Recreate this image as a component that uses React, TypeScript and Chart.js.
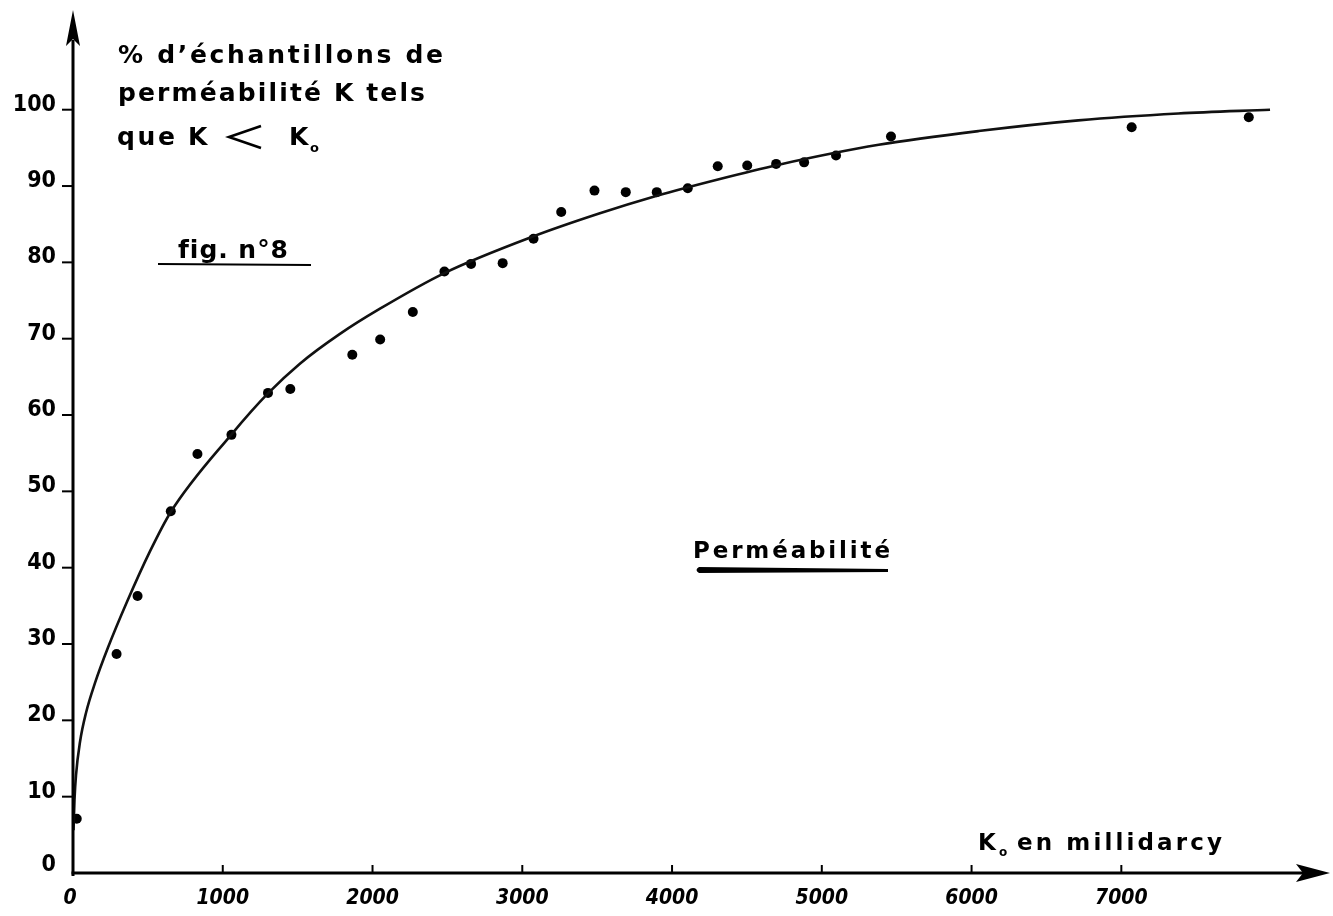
import React, { useEffect, useRef } from "react";
import { Chart, registerables } from "chart.js";

Chart.register(...registerables);

// ---- data ----
const xTicks = [0, 1000, 2000, 3000, 4000, 5000, 6000, 7000];
const yTicks = [0, 10, 20, 30, 40, 50, 60, 70, 80, 90, 100];

// measured samples (K0 in millidarcy, % of samples with K < K0)
const sampleK = [25, 291, 431, 653, 831, 1058, 1302, 1451, 1865, 2051, 2269, 2480, 2658, 2869, 3075, 3260, 3482, 3691, 3898, 4105, 4305, 4502, 4695, 4882, 5095, 5462, 7069, 7851];
const samplePct = [7.1, 28.7, 36.3, 47.4, 54.9, 57.4, 62.9, 63.4, 67.9, 69.9, 73.5, 78.8, 79.8, 79.9, 83.1, 86.6, 89.4, 89.2, 89.2, 89.7, 92.6, 92.7, 92.9, 93.1, 94.0, 96.5, 97.7, 99.0];

// hand-drawn fitted curve
const curveK = [3.3, 10, 20, 47, 87, 147, 233, 360, 513, 653, 1060, 1300, 1513, 1780, 2047, 2480, 3073, 3513, 3893, 4313, 4713, 5380, 6047, 6713, 7380, 7993];
const curvePct = [5.6, 9.6, 12.8, 17.2, 21.0, 24.9, 29.5, 35.5, 42.1, 47.3, 57.5, 62.8, 66.7, 70.6, 73.9, 78.6, 83.4, 86.4, 88.7, 90.9, 92.8, 95.4, 97.2, 98.6, 99.5, 100.0];

const X_MAX = 8380;
const Y_MAX = 112.8;

function fitText(ctx: CanvasRenderingContext2D, text: string, x: number, y: number, width: number, font: string) {
  ctx.font = font;
  const chars = Array.from(text);
  const widths = chars.map((c) => ctx.measureText(c).width);
  const total = widths.reduce((a, b) => a + b, 0);
  const sp = chars.length > 1 ? (width - total) / (chars.length - 1) : 0;
  let cx = x;
  chars.forEach((c, i) => {
    ctx.fillText(c, cx, y);
    cx += widths[i] + sp;
  });
}

const decor = {
  id: "decor",
  afterDraw(chart: any) {
    const ctx: CanvasRenderingContext2D = chart.ctx;
    const xs = chart.scales.x;
    const ys = chart.scales.y;
    const area = chart.chartArea;
    const x0 = xs.getPixelForValue(0);
    const y0 = ys.getPixelForValue(0);
    ctx.save();
    ctx.fillStyle = "#000";
    ctx.strokeStyle = "#000";
    ctx.lineCap = "butt";

    // y axis
    ctx.lineWidth = 3;
    ctx.beginPath();
    ctx.moveTo(x0, y0 + 3);
    ctx.lineTo(x0, area.top + 28);
    ctx.stroke();
    // y arrow
    ctx.beginPath();
    ctx.moveTo(x0, area.top - 2);
    ctx.lineTo(x0 + 7, area.top + 34);
    ctx.lineTo(x0, area.top + 27);
    ctx.lineTo(x0 - 7, area.top + 34);
    ctx.closePath();
    ctx.fill();

    // x axis
    ctx.beginPath();
    ctx.moveTo(x0 - 1.5, y0);
    ctx.lineTo(area.right - 24, y0);
    ctx.stroke();
    // x arrow
    ctx.beginPath();
    ctx.moveTo(area.right + 2, y0);
    ctx.lineTo(area.right - 32, y0 - 9);
    ctx.lineTo(area.right - 25, y0);
    ctx.lineTo(area.right - 32, y0 + 9);
    ctx.closePath();
    ctx.fill();

    // y ticks + labels
    ctx.lineWidth = 2;
    ctx.textAlign = "right";
    ctx.textBaseline = "alphabetic";
    ctx.font = 'bold 23px "DejaVu Sans Condensed", "DejaVu Sans", sans-serif';
    yTicks.forEach((v) => {
      const py = ys.getPixelForValue(v);
      if (v !== 0) {
        ctx.beginPath();
        ctx.moveTo(x0 - 11, py);
        ctx.lineTo(x0, py);
        ctx.stroke();
      }
      ctx.fillText(String(v), x0 - 17, v === 0 ? py - 2 : py + 1);
    });

    // x ticks + labels
    ctx.textAlign = "center";
    ctx.font = 'italic bold 21px "DejaVu Sans Condensed", "DejaVu Sans", sans-serif';
    xTicks.forEach((v) => {
      const px = xs.getPixelForValue(v);
      if (v !== 0) {
        ctx.beginPath();
        ctx.moveTo(px, y0);
        ctx.lineTo(px, y0 - 8);
        ctx.stroke();
      }
      ctx.fillText(String(v), v === 0 ? px - 3 : px, y0 + 31);
    });

    // annotations
    ctx.textAlign = "left";
    const f = 'bold 25px "DejaVu Sans", sans-serif';
    fitText(ctx, "% d’échantillons de", 118, 63, 325, f);
    fitText(ctx, "perméabilité K tels", 118, 101, 307, f);
    fitText(ctx, "que", 117, 145, 58, f);
    ctx.font = f;
    ctx.fillText("K", 188, 145);
    ctx.fillText("K", 289, 145);
    // wide "<" sign
    ctx.lineWidth = 2.6;
    ctx.beginPath();
    ctx.moveTo(261, 126);
    ctx.lineTo(229, 137);
    ctx.lineTo(261, 148);
    ctx.stroke();
    ctx.font = 'bold 13px "DejaVu Sans", sans-serif';
    ctx.fillText("o", 310, 152);

    fitText(ctx, "fig. n°8", 178, 258, 110, 'bold 25px "DejaVu Sans", sans-serif');
    ctx.lineWidth = 2.2;
    ctx.beginPath();
    ctx.moveTo(158, 264);
    ctx.lineTo(311, 265);
    ctx.stroke();

    fitText(ctx, "Perméabilité", 693, 558, 197, 'bold 23px "DejaVu Sans", sans-serif');
    ctx.beginPath();
    ctx.moveTo(699, 567);
    ctx.lineTo(888, 569);
    ctx.lineTo(888, 572);
    ctx.lineTo(699, 573);
    ctx.quadraticCurveTo(694, 570, 699, 567);
    ctx.closePath();
    ctx.fill();

    ctx.font = 'bold 23px "DejaVu Sans", sans-serif';
    ctx.fillText("K", 978, 850);
    ctx.font = 'bold 12px "DejaVu Sans", sans-serif';
    ctx.fillText("o", 999, 856);
    fitText(ctx, "en millidarcy", 1017, 850, 205, 'bold 23px "DejaVu Sans", sans-serif');

    ctx.restore();
  },
};

export default function App() {
  const ref = useRef<HTMLCanvasElement | null>(null);

  useEffect(() => {
    document.body.style.margin = "0";
    const canvas = ref.current;
    if (!canvas) return;
    const chart = new Chart(canvas, {
      type: "scatter",
      data: {
        datasets: [
          {
            label: "courbe",
            data: curveK.map((k, i) => ({ x: k, y: curvePct[i] })),
            showLine: true,
            borderColor: "#111",
            borderWidth: 2.6,
            pointRadius: 0,
            cubicInterpolationMode: "monotone",
            fill: false,
          },
          {
            label: "échantillons",
            data: sampleK.map((k, i) => ({ x: k, y: samplePct[i] })),
            showLine: false,
            pointRadius: 5,
            pointBackgroundColor: "#000",
            pointBorderColor: "#000",
            pointBorderWidth: 0,
          },
        ],
      },
      options: {
        responsive: false,
        animation: false,
        events: [],
        layout: { padding: { left: 73, top: 12, right: 3, bottom: 43 } },
        plugins: {
          legend: { display: false },
          tooltip: { enabled: false },
        },
        scales: {
          x: { type: "linear", min: 0, max: X_MAX, display: false },
          y: { type: "linear", min: 0, max: Y_MAX, display: false },
        },
      },
      plugins: [decor],
    });
    return () => chart.destroy();
  }, []);

  return (
    <div style={{ position: "absolute", left: 0, top: 0, width: 1333, height: 916, background: "#fff" }}>
      <canvas ref={ref} width={1333} height={916} />
    </div>
  );
}
